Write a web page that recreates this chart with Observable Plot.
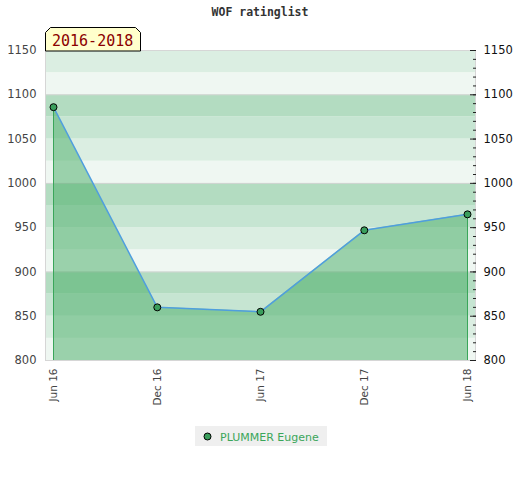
<!DOCTYPE html>
<html><head><meta charset="utf-8">
<script src="https://cdn.jsdelivr.net/npm/d3@7"></script>
<script src="https://cdn.jsdelivr.net/npm/@observablehq/plot@0.6"></script>
<style>
body{margin:0;background:#fff;}
#wrap{position:relative;width:520px;height:480px;}
#chart{position:absolute;left:0;top:0;}
#title{position:absolute;top:5px;left:0;width:520px;text-align:center;font:bold 11.5px "DejaVu Sans Mono";color:#333;}
#badge{position:absolute;left:45px;top:27px;}
#legend{position:absolute;left:195px;top:426px;width:132px;height:20px;background:#efefef;}
#legend svg{position:absolute;left:0;top:0;}
</style></head>
<body>
<div id="wrap">
  <div id="chart"></div>
  <div id="title">WOF ratinglist</div>
  <svg id="badge" width="97" height="25"><path d="M0.5,24 L0.5,5.5 L5.5,0.5 L90.5,0.5 L95.5,5.5 L95.5,24 Z" fill="#ffffcc" stroke="#000"/><text id="badgeText" x="7" y="18.5" font-family="DejaVu Sans Mono" font-size="15" fill="#8b0000"></text></svg>
  <div id="legend"><svg width="132" height="20"><circle cx="12.5" cy="10.5" r="3.5" fill="#3a9e5c" stroke="#000"/><text id="legendText" x="25" y="14.5" font-family="DejaVu Sans" font-size="11" fill="#3aa65a"></text></svg></div>
</div>
<script>
const periodLabel = "2016-2018";
const playerName = "PLUMMER Eugene";
const dates = ["2016-06-01", "2016-12-01", "2017-06-01", "2017-12-01", "2018-06-01"];
const tickLabels = ["Jun 16", "Dec 16", "Jun 17", "Dec 17", "Jun 18"];
const ratings = [1086, 860, 855, 947, 965];
const yTicks = [800, 850, 900, 950, 1000, 1050, 1100, 1150];
const yMinorTicks = d3.range(800, 1151, 10);
const gridValues = [900, 1000, 1100];
const bandColors = ["#dbeee2", "#eff7f2", "#b3dcc1", "#c6e5d2"];

document.getElementById("badgeText").textContent = periodLabel;
document.getElementById("legendText").textContent = playerName;

const yMin = yTicks[0], yMax = yTicks[yTicks.length - 1];
const data = dates.map((d, i) => ({date: new Date(d), rating: ratings[i]}));
const bands = d3.range(yMin, yMax, 25).map(lo => ({lo, hi: lo + 25, idx: Math.round((yMax - lo - 25) / 25) % 4}));
const ends = [data[0], data[data.length - 1]];
const fmt = d3.format("d");

const chart = Plot.plot({
  width: 520, height: 420,
  marginTop: 50, marginBottom: 60, marginLeft: 45, marginRight: 45,
  style: {fontFamily: "DejaVu Sans", fontSize: "11px", background: "transparent"},
  x: {type: "utc", domain: [data[0].date, data[data.length - 1].date], insetLeft: 8, insetRight: 8},
  y: {domain: [yMin, yMax]},
  marks: [
    Plot.rect(bands, {y1: "lo", y2: "hi", fill: d => bandColors[d.idx]}),
    Plot.ruleY(gridValues, {stroke: "#d4d4d4"}),
    Plot.area(data, {x1: "date", y1: () => yMin, y2: "rating", fill: "#45ab64", fillOpacity: 0.5}),
    Plot.ruleX(ends, {x: "date", y1: () => yMin, y2: "rating", stroke: "#3aa65a"}),
    Plot.line(data, {x: "date", y: "rating", stroke: "#4f9ede", strokeWidth: 1.5}),
    Plot.dot(data, {x: "date", y: "rating", r: 3.5, fill: "#3a9e5c", stroke: "#000", strokeWidth: 1}),
    Plot.frame({stroke: "#d6d6d6"}),
    Plot.axisY({anchor: "left", ticks: yTicks, tickFormat: fmt, tickSize: 0, tickPadding: 9, fill: "#444", fontSize: 11.5, label: null}),
    Plot.axisY({anchor: "right", ticks: yMinorTicks, tickSize: 3, insetRight: 3, tickFormat: () => "", label: null, stroke: "#222"}),
    Plot.axisY({anchor: "right", ticks: yTicks, tickFormat: fmt, tickSize: 6, insetRight: 6, tickPadding: 8, fill: "#111", stroke: "#222", fontSize: 11.5, label: null}),
    Plot.axisX({ticks: data.map(d => d.date), tickFormat: d => tickLabels[dates.indexOf(d.toISOString().slice(0, 10))],
      tickRotate: -90, tickSize: 0, tickPadding: 8, fill: "#444", fontSize: 10.5, label: null})
  ]
});
document.getElementById("chart").appendChild(chart);
</script>
</body></html>
